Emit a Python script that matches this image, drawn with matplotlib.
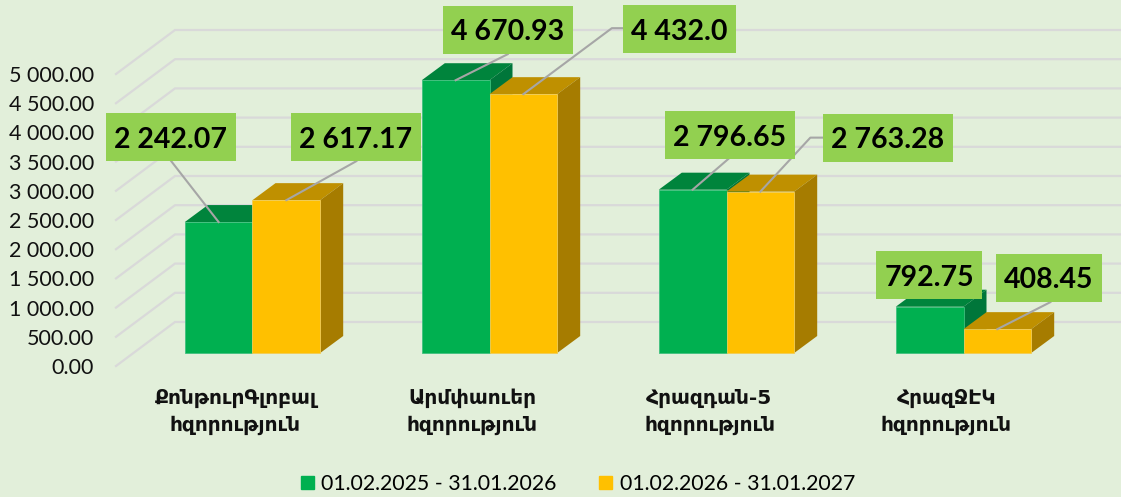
import matplotlib
matplotlib.use("Agg")
import matplotlib.pyplot as plt
from matplotlib.patches import Polygon, Rectangle, Patch

# Datos
categorias = ["ՔոնթուրԳլոբալ\nհզորություն", "Արմփաուեր\nհզորություն",
              "Հրազդան-5\nհզորություն", "ՀրազՋԷԿ\nհզորություն"]
serie_2025 = [2242.07, 4670.93, 2796.65, 792.75]
serie_2026 = [2617.17, 4432.0, 2763.28, 408.45]
etiquetas_2025 = ["2 242.07", "4 670.93", "2 796.65", "792.75"]
etiquetas_2026 = ["2 617.17", "4 432.0", "2 763.28", "408.45"]
ticks = [0, 500, 1000, 1500, 2000, 2500, 3000, 3500, 4000, 4500, 5000]
tick_labels = ["0.00", "500.00", "1 000.00", "1 500.00", "2 000.00", "2 500.00",
               "3 000.00", "3 500.00", "4 000.00", "4 500.00", "5 000.00"]
leyenda = ["01.02.2025 - 31.01.2026", "01.02.2026 - 31.01.2027"]

# Escala: pixeles por unidad en cada eje
PX_X = 237.0
PX_Y = 0.0584
ORIGEN_X = 252.5
ORIGEN_Y = 353.0
ANCHO = 67.7 / PX_X
DEP_X = 23 / PX_X
DEP_Y = 17 / PX_Y

FONDO = "#E2EFDA"
FUENTE = ["Lato", "DejaVu Sans"]


def dx(px):
    return px / PX_X


def dy(px):
    return px / PX_Y


# caja de etiqueta relativa al centro del grupo y a la base: izq, arriba, ancho, alto (pixeles)
cajas_2025 = [(-146.5, -240, 130, 48), (-46.5, -347, 130, 48), (-61.5, -242, 130, 48), (-87.5, -102, 106, 48)]
cajas_2026 = [(38.5, -240, 130, 48), (133.5, -348, 113, 48), (96.5, -239, 130, 48), (32.5, -99, 106, 48)]
# lineas guia: puntos relativos a lo alto de la barra
guias_2025 = [[(-47.5, -61), (0, 0)], [(52, -26), (0, 0)], [(36, -31), (0, 0)], None]
guias_2026 = [[(70, -39), (0, 0)], [(99.5, -66), (88.5, -66), (0, 0)], [(62, -54), (50, -54), (0, 0)],
              [(53, -27), (0, 0)]]

fig = plt.figure(figsize=(11.21, 4.97), dpi=100, facecolor=FONDO)
ax = fig.add_axes([0, 0, 1, 1])
ax.set_xlim(-ORIGEN_X / PX_X, (1121 - ORIGEN_X) / PX_X)
ax.set_ylim((ORIGEN_Y - 497) / PX_Y, ORIGEN_Y / PX_Y)
ax.axis("off")

# Rejilla en perspectiva
for t, lab in zip(ticks, tick_labels):
    y_front = t - dy(13)
    y_back = t + dy(31)
    ax.plot([dx(116 - ORIGEN_X), dx(175 - ORIGEN_X), dx(1121 - ORIGEN_X)],
            [y_front, y_back, y_back], color="#D9D9D9", lw=1.6, zorder=1, solid_joinstyle="miter")
    ax.text(dx(94 - ORIGEN_X), y_front - dy(2), lab, ha="right", va="center", fontsize=15.5,
            family=FUENTE, color="#111111", zorder=2)


def barra3d(x, v, cara, arriba, lado, borde):
    ax.add_patch(Polygon([(x, v), (x + DEP_X, v + DEP_Y), (x + ANCHO + DEP_X, v + DEP_Y), (x + ANCHO, v)],
                         closed=True, color=arriba, lw=0, zorder=3))
    ax.add_patch(Polygon([(x + ANCHO, 0), (x + ANCHO + DEP_X, DEP_Y), (x + ANCHO + DEP_X, v + DEP_Y), (x + ANCHO, v)],
                         closed=True, color=lado, lw=0, zorder=3))
    ax.bar(x, v, ANCHO, align="edge", color=cara, edgecolor=borde, lw=0.6, zorder=3)


for i in range(len(categorias)):
    barra3d(i - ANCHO, serie_2025[i], "#00B050", "#00843C", "#00763A", "#3FC07E")
    barra3d(i, serie_2026[i], "#FFC000", "#BF9000", "#A67C00", "#F2CC55")


def etiqueta(i, centro, v, texto, caja, guia):
    if guia is not None:
        xs = [centro + dx(p[0]) for p in guia]
        ys = [v - dy(p[1]) for p in guia]
        ax.plot(xs, ys, color="#A6A6A6", lw=1.5, zorder=4)
    izq, arr, an, al = caja
    x0 = i + dx(izq)
    y0 = -dy(arr + al)
    ax.add_patch(Rectangle((x0, y0), dx(an), dy(al), facecolor="#92D050", edgecolor="none", zorder=5))
    ax.text(x0 + dx(an / 2), y0 + dy(al / 2), texto, ha="center", va="center_baseline", fontsize=20.5,
            fontweight="bold", family=FUENTE, color="black", zorder=6)


for i in range(len(categorias)):
    etiqueta(i, i - ANCHO / 2, serie_2025[i], etiquetas_2025[i], cajas_2025[i], guias_2025[i])
    etiqueta(i, i + ANCHO / 2, serie_2026[i], etiquetas_2026[i], cajas_2026[i], guias_2026[i])

# Categorias
for i, cat in enumerate(categorias):
    ax.text(i + dx(-17), -dy(59), cat, ha="center", va="center", fontsize=14.5, fontweight="bold",
            family="DejaVu Sans", color="#111111", linespacing=1.48)

handles = [Patch(color="#00B050"), Patch(color="#FFC000")]
ax.legend(handles, leyenda, loc="center", bbox_to_anchor=(0.5155, 0.026), ncol=2, frameon=False,
          prop={"family": FUENTE, "size": 15.3}, handlelength=0.62, handleheight=0.62, handletextpad=0.35,
          columnspacing=2.0, borderpad=0, borderaxespad=0)

fig.savefig("out.png", dpi=100, facecolor=FONDO)
